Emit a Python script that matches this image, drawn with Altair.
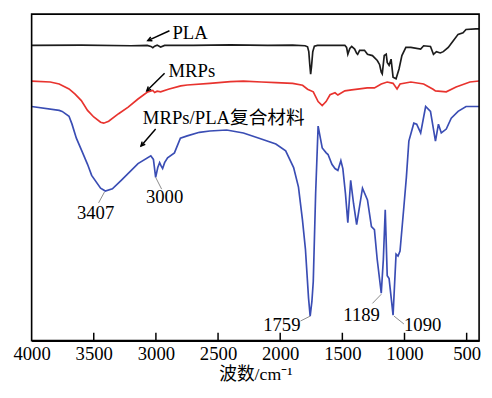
import altair as alt
import pandas as pd

# ---------------- data ----------------
pla_wn = [4000, 3600, 3200, 3070, 3040, 3025, 3010, 2990, 2962, 2930, 2700, 2400, 2100, 1900,
          1800, 1780, 1770, 1762, 1755, 1748, 1738, 1725, 1700, 1600, 1559, 1480, 1466, 1456,
          1440, 1425, 1401, 1385, 1377, 1361, 1322, 1298, 1258, 1219, 1200, 1187, 1179, 1163,
          1147, 1139, 1124, 1108, 1092, 1068, 1044, 1021, 989, 949, 870, 846, 791, 767, 743,
          712, 688, 648, 609, 569, 529, 505, 426, 400]
pla_t = [90.4, 90.5, 90.3, 90.4, 90.1, 89.7, 90.2, 90.5, 89.9, 90.4, 90.4, 90.6, 90.4, 90.5,
         90.3, 90.0, 88.5, 84.5, 81.6, 84.0, 88.5, 90.2, 90.4, 90.4, 90.45, 90.45, 89.8, 87.7,
         89.5, 90.1, 89.3, 88.0, 87.7, 88.9, 88.9, 87.7, 87.3, 85.8, 84.5, 82.2, 81.7, 87.3,
         87.7, 85.2, 84.3, 86.2, 80.7, 80.2, 83.2, 87.3, 89.8, 89.8, 89.3, 90.3, 90.1, 87.7,
         88.5, 88.1, 88.5, 89.8, 91.8, 93.8, 94.3, 95.3, 95.5, 95.5]

mrp_wn = [4000, 3850, 3778, 3699, 3650, 3600, 3550, 3500, 3445, 3420, 3380, 3300, 3223, 3144,
          3065, 3025, 3010, 2990, 2962, 2900, 2800, 2748, 2566, 2400, 2296, 2150, 2035, 1900,
          1820, 1780, 1734, 1695, 1662, 1631, 1599, 1559, 1536, 1480, 1425, 1361, 1300, 1242,
          1187, 1139, 1092, 1060, 1036, 949, 846, 770, 751, 664, 585, 474, 400]
mrp_t = [79.5, 79.2, 78.6, 77.1, 75.5, 73.5, 70.5, 68.5, 66.9, 66.6, 67.2, 69.5, 71.5, 74.0,
         76.2, 76.6, 76.0, 76.4, 76.2, 77.0, 78.0, 78.3, 78.8, 79.3, 79.5, 79.2, 79.0, 78.8,
         78.2, 77.0, 76.2, 73.2, 72.0, 73.2, 75.3, 75.9, 75.2, 76.5, 76.8, 77.1, 77.4, 77.4,
         78.6, 79.2, 78.8, 77.1, 78.6, 79.2, 78.6, 77.0, 76.5, 76.2, 77.7, 79.2, 79.5]

cmp_wn = [4000, 3778, 3754, 3699, 3675, 3640, 3596, 3550, 3517, 3445, 3407, 3350, 3279, 3144,
          3041, 3020, 3002, 2985, 2970, 2958, 2946, 2930, 2906, 2851, 2803, 2748, 2650, 2566,
          2431, 2296, 2170, 2035, 1956, 1892, 1853, 1821, 1797, 1772, 1759, 1745, 1734, 1715,
          1695, 1662, 1630, 1615, 1584, 1559, 1536, 1512, 1496, 1475, 1456, 1433, 1410, 1385,
          1338, 1298, 1266, 1242, 1220, 1187, 1170, 1155, 1139, 1124, 1092, 1068, 1052, 1036,
          1005, 985, 965, 925, 902, 870, 830, 791, 751, 727, 704, 664, 624, 569, 505, 400]
cmp_t = [71.7, 70.5, 70.2, 68.7, 66.3, 62.0, 58.1, 54.0, 50.6, 46.7, 45.8, 46.5, 49.1, 54.2,
         56.6, 55.5, 50.0, 53.0, 54.5, 53.5, 52.7, 54.5, 56.0, 57.5, 62.0, 62.7, 63.8, 64.2,
         64.5, 63.6, 62.0, 60.2, 58.1, 53.0, 47.0, 37.0, 28.0, 13.0, 7.5, 12.0, 18.1, 45.0,
         65.7, 59.0, 57.5, 57.0, 54.0, 52.7, 52.1, 55.1, 52.7, 45.0, 36.1, 49.1, 42.0, 35.5,
         46.7, 43.1, 34.9, 34.0, 25.0, 14.5, 25.0, 40.1, 19.9, 19.0, 7.8, 26.5, 25.9, 27.4,
         41.0, 50.0, 61.1, 66.6, 66.3, 63.6, 71.7, 70.2, 61.1, 66.3, 63.6, 64.8, 68.1, 70.2,
         71.7, 71.7]

series_names = ["PLA", "MRPs", "MRPs/PLA复合材料"]
series_colors = ["#1c1c1c", "#e8332e", "#3a4db4"]

x_ticks = [4000, 3500, 3000, 2500, 2000, 1500, 1000, 500]

# series label annotations (text start, arrow tail -> head)
lab_text = series_names
lab_x = [2867, 2899, 3105]
lab_y = [92.5, 80.7, 66.3]
arr_x1 = [2891, 2930, 3002]
arr_y1 = [94.9, 81.9, 64.8]
arr_x2 = [3065, 3073, 3120]
arr_y2 = [91.9, 76.5, 59.6]
arr_ang = [246, 225, 221]

# peak labels with leader lines
peak_text = ["3407", "3000", "1759", "1189", "1090"]
peak_x = [3485, 2930, 1987, 1345, 854]
peak_y = [39.2, 44.0, 4.8, 7.8, 4.8]
lead_x1 = [3461, 3002, 1837, 1258, 1084]
lead_y1 = [42.2, 50.0, 6.0, 11.4, 7.5]
lead_x2 = [3414, 2954, 1759, 1187, 1005]
lead_y2 = [45.5, 46.4, 7.5, 14.2, 5.1]

# ---------------- build tables ----------------
rows = []
for name, wn, t in zip(series_names, [pla_wn, mrp_wn, cmp_wn], [pla_t, mrp_t, cmp_t]):
    for i, (a, b) in enumerate(zip(wn, t)):
        rows.append({"series": name, "wn": a, "t": b, "order": i})
lines_df = pd.DataFrame(rows)

lab_df = pd.DataFrame({"text": lab_text, "x": lab_x, "y": lab_y})
arr_df = pd.DataFrame({"x1": arr_x1, "y1": arr_y1, "x2": arr_x2, "y2": arr_y2, "ang": arr_ang})
peak_df = pd.DataFrame({"text": peak_text, "x": peak_x, "y": peak_y})
lead_df = pd.DataFrame({"x1": lead_x1, "y1": lead_y1, "x2": lead_x2, "y2": lead_y2})
tick_df = pd.DataFrame({"x": x_ticks[1:]})
frame_df = pd.DataFrame({"k": [0]})

W, H = 455, 332
FONT = "Liberation Serif, Times New Roman, Noto Sans CJK SC"

xscale = alt.Scale(domain=[4000, 400], nice=False, zero=False)
yscale = alt.Scale(domain=[0, 100], nice=False, zero=False)

base_x = alt.X(
    "wn:Q", scale=xscale,
    axis=alt.Axis(values=x_ticks, title="波数/cm⁻¹", grid=False, ticks=False,
                  labelFlush=False, labelFont=FONT, labelFontSize=19, labelColor="black",
                  labelPadding=4, domainColor="black", domainWidth=2,
                  titleFont=FONT, titleFontSize=18, titleFontWeight="normal",
                  titleColor="black", titlePadding=3, format="d"),
)

frame = alt.Chart(frame_df).mark_rect(fillOpacity=0, stroke="black", strokeWidth=1.6).encode(
    x=alt.value(0), x2=alt.value(W), y=alt.value(0), y2=alt.value(H),
)

lines = alt.Chart(lines_df).mark_line(strokeWidth=1.7).encode(
    x=base_x,
    y=alt.Y("t:Q", scale=yscale, axis=None),
    color=alt.Color("series:N", scale=alt.Scale(domain=series_names, range=series_colors), legend=None),
    order="order:Q",
    detail="series:N",
)

ticks = alt.Chart(tick_df).mark_rule(color="black", strokeWidth=1.5).encode(
    x=alt.X("x:Q", scale=xscale),
    y=alt.value(H), y2=alt.value(H - 8),
)

leads = alt.Chart(lead_df).mark_rule(color="#8a8a8a", strokeWidth=1).encode(
    x=alt.X("x1:Q", scale=xscale), y=alt.Y("y1:Q", scale=yscale),
    x2="x2:Q", y2="y2:Q",
)

peak_labels = alt.Chart(peak_df).mark_text(font=FONT, fontSize=19, color="black",
                                           align="center", baseline="middle").encode(
    x=alt.X("x:Q", scale=xscale), y=alt.Y("y:Q", scale=yscale), text="text:N",
)

arrows = alt.Chart(arr_df).mark_rule(color="black", strokeWidth=1.5).encode(
    x=alt.X("x1:Q", scale=xscale), y=alt.Y("y1:Q", scale=yscale),
    x2="x2:Q", y2="y2:Q",
)

heads = alt.Chart(arr_df).mark_point(
    shape="M -0.5 1 L 0 0 L 0.5 1", filled=False, color="black",
    strokeWidth=1.5, size=70, opacity=1,
).encode(
    x=alt.X("x2:Q", scale=xscale), y=alt.Y("y2:Q", scale=yscale),
    angle=alt.Angle("ang:Q", scale=None),
)

labels = alt.Chart(lab_df).mark_text(font=FONT, fontSize=19, color="black",
                                     align="left", baseline="alphabetic").encode(
    x=alt.X("x:Q", scale=xscale), y=alt.Y("y:Q", scale=yscale), text="text:N",
)

chart = alt.layer(lines, frame, ticks, leads, peak_labels, arrows, heads, labels).properties(
    width=W, height=H,
    autosize=alt.AutoSizeParams(type="none"),
    padding={"left": 24, "top": 3, "right": 5, "bottom": 47},
).configure_view(stroke=None).configure(background="white")

chart.save("out.html", embed_options={"renderer": "svg", "actions": False})
